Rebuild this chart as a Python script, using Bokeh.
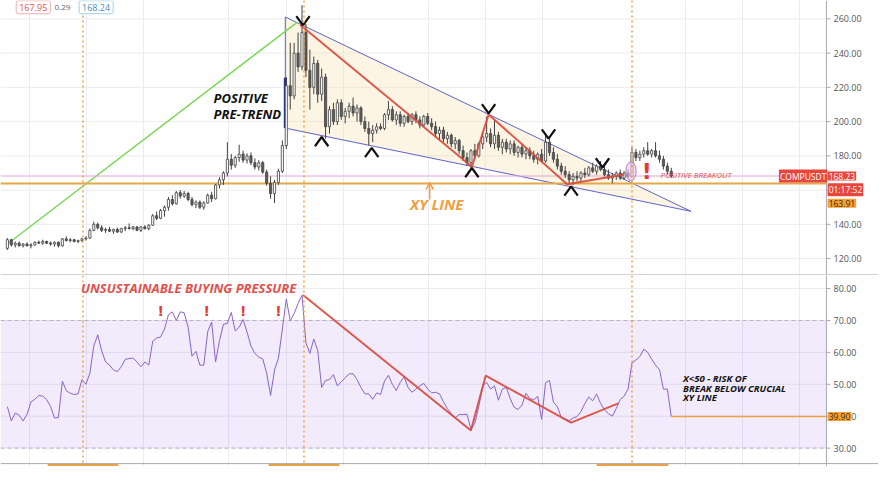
from bokeh.plotting import figure
from bokeh.layouts import column
from bokeh.models import Range1d, FixedTicker, Span, Label, Arrow, OpenHead, ColumnDataSource
from bokeh.core.properties import value
from bokeh.embed import file_html
from bokeh.resources import INLINE

# ---------------- data ----------------
opens = [126,131,128,129,127.5,128.5,127.5,128,129.5,129,
         130,129,128.5,129.5,127.5,131.5,130.5,131,130,130.5,
         131.5,132,136.5,140,138,136.5,137,136,137,135.5,
         137.5,138,137.5,138.5,136.5,138.5,137.5,139.5,145,143.5,
         148,150,154.5,152,158.5,156.5,158,154.5,151.5,153,
         150,152.5,157,155,163,166,170,178,174.5,179,
         181,177.5,180,176,173.5,176,170.5,164,158,164.5,
         171,186,221,215,240,232,252,230,220,234,
         216,226,197,207,200,211,203,206,209,205,
         208,200,196,193,195,197,196,204,207,201,
         204,199,203,200,204,201,198,203,199,197,
         193,195,190,192,187,189,183,179,176,183,
         180,187,191,193,187,192,185,188,184,187,
         182,185,181,183,180,178,181,177,188,182,
         178,174,171,169,166,168,167,170,169,173,
         171,174,172,169,167,168,170,167,170,168,
         182,179,181,183,181,183,180,178,174,171]
highs = [132,131.5,130,130,129,129.5,129,130,130.5,131,
         130.5,130,130,130,132,133,132,131.5,131,132,
         133,137.5,141.5,141,139.5,138,138.5,137.5,138,138,
         139,140.5,139,139,139,139.5,140,146,147.5,149,
         151,156,157,159.5,160,159.5,159,156,154,154,
         153.5,158,159,163.5,167.5,171,188,181,180,186.5,
         183,181.5,182,178.5,177.5,177,172,168,166,172.5,
         189,226,246,246,252,268,257,242,238,236,
         231,228,209,211,213,213,208,211,214,210,
         209,203,200,198,199,199,205,212,209,206,
         206,204,205,205,206,203,204,205,202,200,
         197,197,194,193,191,190,186,182,184,187,
         188,194,203,196,201,194,190,190,189,189,
         186,187,185,185,183,182,184,193,190,185,
         181,176,174,171,170,171,171,173,174,176,
         175,177,175,172,170,171,172,171,172,185,
         184,183,185,188,184,188,183,180,176,173]
lows = [125,127,126.5,127,126.5,127,126,127.5,128.5,128,
        128.5,127.5,127,126.5,127,130,129.5,129.5,129,129.5,
        130.5,131.5,136,137,135.5,135,135.5,134.5,135,135,
        136,137,136.5,136,135.5,137,136.5,139,142.5,143,
        144.5,148,151,151.5,155,155.5,153.5,150.5,149.5,149,
        148.5,152,153,154.5,161,163,168,172,173,176.5,
        176,175.5,174.5,172,171.5,169.5,162.5,155,152.5,163,
        170,184,207,213,229,230,226,207,216,211,
        212,190,193,198,198,201,199,202,203,200,
        198,194,186,188,193,195,195,201,200,198,
        197,197,199,198,199,196,197,198,195,191,
        189,188,187,185,184,181,177,174,173,178,
        179,184,188,185,184,183,181,182,181,180,
        179,179,178,178,176,175,176,176,180,176,
        172,169,167,164,163,165,165,167,168,170,
        169,171,168,166,164,166,166,166,167,167,
        177,177,179,180,179,179,176,172,169,167]
closes = [131,128,129,127.5,128.5,127.5,128,129.5,129,130,
          129,128.5,129.5,127.5,131.5,130.5,131,130,130.5,131.5,
          132,136.5,140,138,136.5,137,136,137,135.5,137.5,
          138,137.5,138.5,136.5,138.5,137.5,139.5,145,143.5,148,
          150,154.5,152,158.5,156.5,158,154.5,151.5,153,150,
          152.5,157,155,163,166,170,178,174.5,179,181,
          177.5,180,176,173.5,176,170.5,164,158,164.5,171,
          186,221,215,240,232,252,230,220,234,216,
          226,197,207,200,211,203,206,209,205,208,
          200,196,193,195,197,196,204,207,201,204,
          199,203,200,204,201,198,203,199,197,193,
          195,190,192,187,189,183,179,176,183,180,
          187,191,193,187,192,185,188,184,187,182,
          185,181,183,180,178,181,177,188,182,178,
          174,171,169,166,168,167,170,169,173,171,
          174,172,169,167,168,170,167,170,168,182,
          179,181,183,181,183,180,178,174,171,168.23]
rsi = [43,38.5,41,40.3,38.5,40.6,44.5,45.3,46.5,46.3,
       45.2,43,39.4,39.6,51,48,47.2,46.8,47,51.5,
       50,53.5,62,65.5,60.5,57,56,54.5,54,55.5,
       57.8,58.1,58.2,57,55.5,57,56,63.5,64.5,64.8,
       67.3,71.8,72.7,70,72.7,72.4,68,58.8,60.3,56,
       56,66.5,69.5,57,63.7,68.8,69.1,72.5,66.7,67.9,
       70.3,66.4,62,59.7,58.5,58,53.5,46.5,54.5,58.2,
       67.3,76.7,69.9,72.2,75.3,77.9,63,59.7,64.2,60.6,
       49,51.2,51.5,53,49.5,50.8,52,53.3,53.3,51.5,
       49,47,47,45.3,47.3,46.8,51,52.8,50,48,
       50.6,52.3,49,47.5,48.5,49.5,50.3,48.5,47.3,47.5,
       47,44.5,42.4,40.8,39.5,40.5,40.5,40.6,36,37.8,
       43,49.5,50.6,48.5,49.5,45,48.5,49,45.5,42.8,
       42.1,43.5,47.2,45.5,45.2,46.2,39,50.5,51.2,44.4,
       43,39.6,39.2,38.6,39.4,39.9,41.4,44,46,44.8,
       47,44,42,40.8,40,42.4,45.2,46.3,48.5,56.7,
       57.6,58.7,61,60,57.9,56,54.6,48.5,48.5,39.9]
bars = list(range(len(closes)))

price_ticks = [120, 140, 160, 180, 200, 220, 240, 260]
rsi_ticks = [30, 40, 50, 60, 70, 80]
time_grid = [5.75, 20.25, 34.75, 56.25, 71, 85.5, 107.25, 121.75, 136.25, 172.5, 187.25, 201.75]
event_lines = [19.25, 75.5, 159]

last_price = 168.23
xy_line = 163.91
rsi_last = 39.90

# drawings (bar index, value)
green_x = [0, 73.75]; green_y = [128.5, 258]
wedge_x = [70.75, 174, 70.75]; wedge_y = [261.1, 147.6, 196.2]
wedge_base_x = [70.75, 70.75]; wedge_base_y = [225.6, 196.2]
zig_x = [74.5, 118.25, 122.5, 142.5, 157]; zig_y = [256.6, 173.6, 204.1, 163.4, 169.1]
rsi_zig_x = [75.25, 118, 121.75, 143.5, 155.5]; rsi_zig_y = [78, 35.5, 52.7, 38, 44]
chev_dn_x = [75.25, 122.5, 137.75, 151.5]; chev_dn_y = [258.9, 207.5, 192.8, 175.9]
chev_up_x = [80, 92.75, 118.25, 143.5]; chev_up_y = [188.3, 182, 170.2, 159.5]
warn_x = [39, 50.75, 60, 69]; warn_y = [73, 73, 73, 73]
date_box_l = [10.25, 66.5, 150]; date_box_r = [28.25, 84.5, 168.25]

# ---------------- layout ----------------
W, HT, HB = 878, 275, 191
AXIS_X = 208.5          # price-scale border (bar units)
xr = Range1d(-1.75, 221.75)
GRID = "#ebebf0"
AX = "#a8a8b0"
ORANGE = "#f0a040"
RED = "#d9483b"


def base(height, yr, ticks):
    p = figure(width=W, height=height, x_range=xr, y_range=yr,
               toolbar_location=None, output_backend="svg",
               min_border_left=0, min_border_right=0, min_border_top=0, min_border_bottom=0)
    p.xaxis.visible = False
    p.yaxis.visible = False
    p.ygrid.visible = False
    p.outline_line_color = None
    p.background_fill_color = "white"
    p.border_fill_color = "white"
    p.xgrid.ticker = FixedTicker(ticks=time_grid)
    p.xgrid.grid_line_color = GRID
    n = len(ticks)
    p.segment(x0=[xr.start] * n, y0=ticks, x1=[AXIS_X] * n, y1=ticks, line_color=GRID, line_width=1)
    p.add_layout(Span(location=AXIS_X, dimension="height", line_color=AX, line_width=1))
    p.segment(x0=[AXIS_X] * n, y0=ticks, x1=[AXIS_X + 1] * n, y1=ticks, line_color=AX, line_width=1)
    p.text(x=[AXIS_X + 1.8] * n, y=ticks, text=["%.2f" % t for t in ticks],
           text_font=value("Open Sans"), text_font_size="9px", text_color="#555",
           text_baseline="middle", text_align="left")
    for xv in event_lines:
        p.add_layout(Span(location=xv, dimension="height", line_color=ORANGE,
                          line_dash="2 3", line_width=1.5))
    return p


def chevrons(p, xs, ys, down):
    s = 1 if down else -1
    p.multi_line(xs=[[x - 1.7, x, x + 1.7] for x in xs],
                 ys=[[y + s * 2.7, y - s * 2.7, y + s * 2.7] for y in ys],
                 line_color="#111", line_width=2.2)


def tag(p, y, text, bg, fg):
    p.add_layout(Label(x=AXIS_X + 0.3, y=y, text=text, text_font="Open Sans", text_font_size="8.5px",
                       text_baseline="middle", text_color=fg, background_fill_color=bg, padding=1))


# ---------------- price pane ----------------
top = base(HT, Range1d(110.12, 270.73), price_ticks)

top.patch(wedge_x, wedge_y, fill_color="#f7e3b0", fill_alpha=0.35, line_color=None)
top.line([wedge_x[0], wedge_x[1]], [wedge_y[0], wedge_y[1]], line_color="#5c63c9", line_width=1)
top.line([wedge_x[2], wedge_x[1]], [wedge_y[2], wedge_y[1]], line_color="#5c63c9", line_width=1)
top.line([wedge_x[0], wedge_x[2]], [wedge_y[0], wedge_y[2]], line_color="#5c63c9", line_width=1)
top.line(wedge_base_x, wedge_base_y, line_color="#2b2f8f", line_width=3)

top.line(green_x, green_y, line_color="#7fd65a", line_width=1.5)

top.segment(x0=[xr.start], y0=[last_price], x1=[AXIS_X], y1=[last_price], line_color="#e2a3d6", line_width=1)
top.segment(x0=[xr.start], y0=[xy_line], x1=[AXIS_X], y1=[xy_line], line_color="#e3a848", line_width=2)
top.add_layout(Span(location=110.5, dimension="width", line_color="#b8b8c0", line_width=1))

up = [i for i in bars if closes[i] >= opens[i]]
dn = [i for i in bars if closes[i] < opens[i]]
src_up = ColumnDataSource(dict(x=up, h=[highs[i] for i in up], l=[lows[i] for i in up],
                               t=[closes[i] for i in up], b=[opens[i] for i in up]))
src_dn = ColumnDataSource(dict(x=dn, h=[highs[i] for i in dn], l=[lows[i] for i in dn],
                               t=[opens[i] for i in dn], b=[closes[i] for i in dn]))
for src, fill in ((src_up, "#ffffff"), (src_dn, "#5f5f5f")):
    top.segment(x0="x", y0="h", x1="x", y1="l", source=src, line_color="#404040", line_width=1)
    top.vbar(x="x", top="t", bottom="b", width=0.55, source=src,
             fill_color=fill, line_color="#404040", line_width=0.8)

top.line(zig_x, zig_y, line_color=RED, line_width=2, line_alpha=0.9)
chevrons(top, chev_dn_x, chev_dn_y, True)
chevrons(top, chev_up_x, chev_up_y, False)

top.ellipse(x=[158.75], y=[171], width=2.6, height=11, fill_color="#f2c4ee",
            fill_alpha=0.6, line_color="#b57cc8", line_width=1)
top.text(x=[162.75], y=[171], text=["!"], text_font=value("DejaVu Sans"), text_font_style="bold",
         text_font_size="22px", text_align="center", text_baseline="middle", text_color="#e53935")

top.add_layout(Label(x=52.5, y=213.7, text="POSITIVE", text_font="Open Sans",
                     text_font_style="bold italic", text_font_size="13px",
                     text_baseline="middle", text_color="#111"))
top.add_layout(Label(x=52.5, y=204.7, text="PRE-TREND", text_font="Open Sans",
                     text_font_style="bold italic", text_font_size="13px",
                     text_baseline="middle", text_color="#111"))
top.add_layout(Label(x=102.5, y=151.6, text="XY LINE", text_font="Open Sans",
                     text_font_style="bold italic", text_font_size="15px",
                     text_baseline="middle", text_color=ORANGE))
top.add_layout(Arrow(end=OpenHead(size=7, line_color=ORANGE, line_width=1.5),
                     x_start=107.5, y_start=154.5, x_end=107.5, y_end=164.5,
                     line_color=ORANGE, line_width=1.5))
top.add_layout(Label(x=166.25, y=169.1, text="POSITIVE BREAKOUT", text_font="Open Sans",
                     text_font_style="italic", text_font_size="8px",
                     text_baseline="middle", text_color="#e05555"))

# header
top.add_layout(Label(x=2.25, y=266.8, text="167.95", text_font="Open Sans", text_font_size="9px",
                     text_baseline="middle", text_color="#d9534f", background_fill_color="white",
                     border_line_color="#f0b0b0", padding=3, border_radius=2))
top.add_layout(Label(x=12, y=266.8, text="0.29", text_font="Open Sans", text_font_size="8px",
                     text_baseline="middle", text_color="#666"))
top.add_layout(Label(x=18.25, y=266.8, text="168.24", text_font="Open Sans", text_font_size="9px",
                     text_baseline="middle", text_color="#3f8fc0", background_fill_color="white",
                     border_line_color="#a6d0e6", padding=3, border_radius=2))

# price-scale tags
top.add_layout(Label(x=196.4, y=last_price, text="COMPUSDT", text_font="Open Sans", text_font_size="8.5px",
                     text_baseline="middle", text_color="white", background_fill_color="#e8453c",
                     padding=1))
tag(top, last_price, "168.23", "#e8453c", "white")
tag(top, 160.2, "01:17:52", "#e8453c", "white")
tag(top, 152.3, "163.91", "#f5a233", "#3a2a10")

# ---------------- RSI pane ----------------
bot = base(HB, Range1d(24.24, 84.09), rsi_ticks)
bot.quad(left=[xr.start], right=[AXIS_X], bottom=[30], top=[70],
         fill_color="#9b6fe0", fill_alpha=0.14, line_color=None)
bot.segment(x0=[xr.start] * 2, y0=[70, 30], x1=[AXIS_X] * 2, y1=[70, 30],
            line_color="#b9aec9", line_width=1, line_dash="4 3")
bot.add_layout(Span(location=25.15, dimension="width", line_color="#a8a8b0", line_width=1))
bot.quad(left=date_box_l, right=date_box_r, bottom=[24.24] * 3, top=[25.05] * 3,
         fill_color="#f0a040", line_color=None)

bot.line(bars, rsi, line_color="#8a63c8", line_width=1)
bot.segment(x0=[bars[-1]], y0=[rsi_last], x1=[AXIS_X], y1=[rsi_last], line_color="#f0a040", line_width=1.5)
bot.line(rsi_zig_x, rsi_zig_y, line_color=RED, line_width=2, line_alpha=0.9)
bot.text(x=warn_x, y=warn_y, text=["!"] * len(warn_x), text_font=value("DejaVu Sans"),
         text_font_style="bold", text_font_size="14px", text_align="center",
         text_baseline="middle", text_color="#e53935")

bot.add_layout(Label(x=18.75, y=80.3, text="UNSUSTAINABLE BUYING PRESSURE", text_font="Open Sans",
                     text_font_style="bold italic", text_font_size="13px",
                     text_baseline="middle", text_color="#e0524a"))
for yy, tx in ((51.8, "X<50 - RISK OF"), (48.8, "BREAK BELOW CRUCIAL"), (45.8, "XY LINE")):
    bot.add_layout(Label(x=172, y=yy, text=tx, text_font="Open Sans", text_font_style="bold italic",
                         text_font_size="9.5px", text_baseline="middle", text_color="#111"))
tag(bot, rsi_last, "39.90", "#f5a233", "#3a2a10")

layout = column(top, bot, spacing=0)
open("out.html", "w").write(file_html(layout, INLINE))
